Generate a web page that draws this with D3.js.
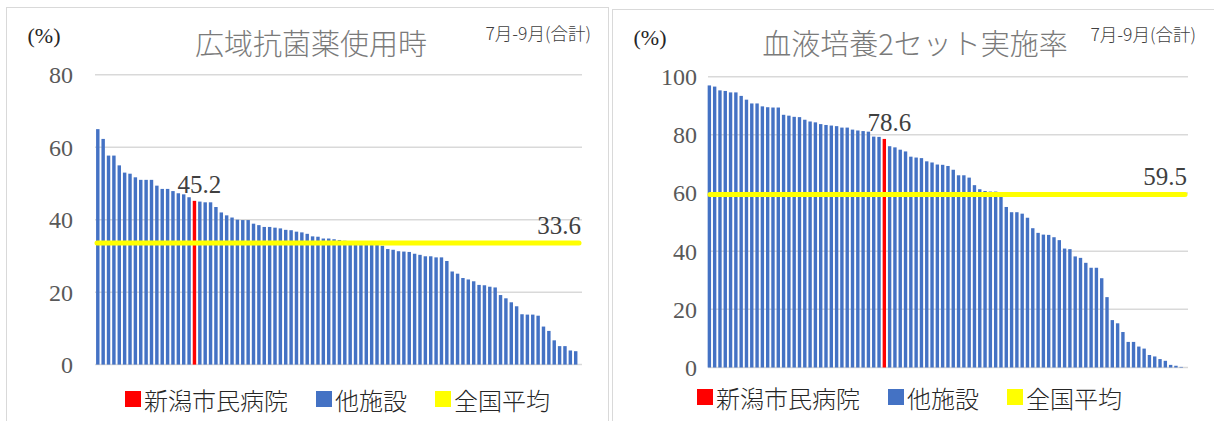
<!DOCTYPE html>
<html><head><meta charset="utf-8">
<script src="https://cdn.jsdelivr.net/npm/d3@7"></script>
<style>body{margin:0;background:#fff} svg{display:block}</style>
</head><body><svg id="c" width="1214" height="421"></svg>
<script>
// ---------- data ----------
const unitLabel = "(%)";
const periodLabel = "7月-9月(合計)";
const legendLabels = ["新潟市民病院", "他施設", "全国平均"];

const antibioticTitle = "広域抗菌薬使用時";
const antibioticTicks = [0, 20, 40, 60, 80];
const antibioticValues = [
  65.0, 62.3, 57.7, 57.7, 55.0, 53.0, 52.7, 51.7, 51.0, 51.0,
  51.0, 49.4, 48.5, 48.5, 47.9, 47.3, 47.0, 46.2, 45.2, 45.0,
  44.8, 44.8, 43.5, 42.0, 41.2, 40.6, 40.0, 39.9, 39.9, 38.9,
  38.5, 38.0, 38.0, 37.8, 37.6, 37.2, 37.1, 36.7, 36.5, 36.1,
  35.4, 35.3, 34.8, 34.8, 34.6, 34.4, 34.2, 34.1, 33.9, 33.7,
  33.5, 33.3, 33.1, 32.8, 31.9, 31.7, 31.3, 31.2, 31.1, 30.6,
  30.3, 29.9, 29.9, 29.6, 29.6, 28.6, 25.7, 25.1, 23.9, 23.5,
  23.0, 22.0, 21.9, 21.5, 21.3, 19.2, 18.3, 17.2, 16.1, 13.9,
  13.8, 13.8, 13.5, 10.5, 9.3, 6.7, 5.1, 5.1, 3.9, 3.7
];
const antibioticHospitalIndex = 18;   // 新潟市民病院
const antibioticNationalAverage = 33.6;

const bloodTitle = "血液培養2セット実施率";
const bloodTicks = [0, 20, 40, 60, 80, 100];
const bloodValues = [
  97.0, 96.6, 95.3, 95.1, 94.6, 94.6, 93.4, 92.1, 90.8, 90.8,
  89.8, 89.5, 89.4, 89.4, 86.9, 86.6, 86.2, 86.1, 85.2, 84.6,
  84.3, 83.7, 83.4, 83.2, 83.0, 82.5, 82.5, 81.8, 81.5, 81.3,
  81.1, 79.4, 79.3, 78.6, 76.1, 75.7, 74.9, 74.3, 72.5, 72.2,
  72.0, 70.9, 70.5, 69.8, 69.7, 69.3, 68.0, 66.1, 66.1, 65.3,
  62.7, 61.3, 60.7, 60.5, 60.5, 59.8, 55.2, 53.4, 53.4, 52.9,
  51.5, 47.9, 46.3, 45.7, 45.6, 44.8, 43.8, 40.9, 40.7, 38.2,
  37.7, 36.0, 34.3, 34.3, 30.7, 24.2, 16.3, 15.2, 12.2, 8.8,
  8.8, 7.2, 6.5, 4.3, 3.8, 2.9, 2.3, 0.9, 0.6, 0.2
];
const bloodHospitalIndex = 33;        // 新潟市民病院
const bloodNationalAverage = 59.5;

// ---------- style ----------
const COLORS = { hospital: "#FF0000", others: "#4472C4", average: "#FFFF00" };
const legendColors = [COLORS.hospital, COLORS.others, COLORS.average];
const SERIF = "'Liberation Serif','DejaVu Serif',serif";
const SANS = "'Noto Sans CJK JP','Noto Sans',sans-serif";

const panels = [
  { title: antibioticTitle, values: antibioticValues, hi: antibioticHospitalIndex,
    avg: antibioticNationalAverage, ticks: antibioticTicks, ymax: 80,
    box: [6, 7, 602, 440], gridX: [95, 582], barX: [95, 578.5], yR: [364.6, 74.8],
    tickX: 73, unit: [44, 35], titlePos: [311, 42], periodPos: [591, 32], legendX: 125, legendY: 399 },
  { title: bloodTitle, values: bloodValues, hi: bloodHospitalIndex,
    avg: bloodNationalAverage, ticks: bloodTicks, ymax: 100,
    box: [612, 9, 620, 440], gridX: [708, 1188], barX: [706.6, 1184], yR: [367.5, 76.7],
    tickX: 697, unit: [650, 37], titlePos: [915, 42], periodPos: [1196, 33], legendX: 697, legendY: 397 }
];

const svg = d3.select("#c");

panels.forEach(p => {
  const g = svg.append("g");
  // panel border
  g.append("rect").attr("x", p.box[0] + 0.5).attr("y", p.box[1] + 0.5)
    .attr("width", p.box[2]).attr("height", p.box[3])
    .attr("fill", "none").attr("stroke", "#d9d9d9").attr("stroke-width", 1);

  const x = d3.scaleBand().domain(d3.range(p.values.length)).range(p.barX).paddingInner(0.36).paddingOuter(0.2);
  const y = d3.scaleLinear().domain([0, p.ymax]).range(p.yR);

  // gridlines
  g.append("g").selectAll("line").data(p.ticks).join("line")
    .attr("x1", p.gridX[0]).attr("x2", p.gridX[1])
    .attr("y1", d => y(d)).attr("y2", d => y(d))
    .attr("stroke", "#d9d9d9").attr("stroke-width", 1.5);

  // y axis labels via d3 axis
  const ax = g.append("g").attr("transform", `translate(${p.tickX},0)`)
    .call(d3.axisLeft(y).tickValues(p.ticks).tickSize(0).tickPadding(0).tickFormat(d3.format("d")));
  ax.select(".domain").remove();
  ax.selectAll("text").attr("font-family", SERIF).attr("font-size", 24).attr("fill", "#595959").attr("dy", "0.33em");

  // bars
  g.append("g").selectAll("rect").data(p.values).join("rect")
    .attr("x", (d, i) => x(i)).attr("width", x.bandwidth())
    .attr("y", d => y(d)).attr("height", d => y(0) - y(d))
    .attr("fill", (d, i) => i === p.hi ? COLORS.hospital : COLORS.others);

  // national average line
  g.append("line").attr("x1", p.gridX[0] + 2).attr("x2", p.gridX[1] - 3)
    .attr("y1", y(p.avg)).attr("y2", y(p.avg))
    .attr("stroke", COLORS.average).attr("stroke-width", 5).attr("stroke-linecap", "round");

  // labels
  g.append("text").attr("x", x(p.hi) + x.bandwidth() / 2 + 5).attr("y", y(p.values[p.hi]) - 8)
    .attr("text-anchor", "middle").attr("font-family", SERIF).attr("font-size", 25).attr("fill", "#404040")
    .text(d3.format(".1f")(p.values[p.hi]));
  g.append("text").attr("x", p.gridX[1] - 1).attr("y", y(p.avg) - 9)
    .attr("text-anchor", "end").attr("font-family", SERIF).attr("font-size", 25).attr("fill", "#404040")
    .text(d3.format(".1f")(p.avg));

  g.append("text").attr("x", p.unit[0]).attr("y", p.unit[1]).attr("text-anchor", "middle")
    .attr("dominant-baseline", "central").attr("font-family", SERIF).attr("font-size", 22).attr("fill", "#262626")
    .text(unitLabel);
  g.append("text").attr("x", p.titlePos[0]).attr("y", p.titlePos[1]).attr("text-anchor", "middle")
    .attr("dominant-baseline", "central").attr("font-family", SANS).attr("font-weight", 200)
    .attr("font-size", 29).attr("fill", "#7a7a7a").text(p.title);
  g.append("text").attr("x", p.periodPos[0]).attr("y", p.periodPos[1]).attr("text-anchor", "end")
    .attr("dominant-baseline", "central").attr("font-family", SANS).attr("font-weight", 300)
    .attr("font-size", 17.5).attr("fill", "#404040").text(periodLabel);

  // legend
  let lx = p.legendX;
  legendLabels.forEach((lab, i) => {
    g.append("rect").attr("x", lx).attr("y", p.legendY - 8).attr("width", 16).attr("height", 16).attr("fill", legendColors[i]);
    const t = g.append("text").attr("x", lx + 19).attr("y", p.legendY).attr("dominant-baseline", "central")
      .attr("font-family", SANS).attr("font-weight", 300).attr("font-size", 24).attr("fill", "#262626").text(lab);
    lx += 19 + t.node().getComputedTextLength() + 28;
  });
});
</script></body></html>
